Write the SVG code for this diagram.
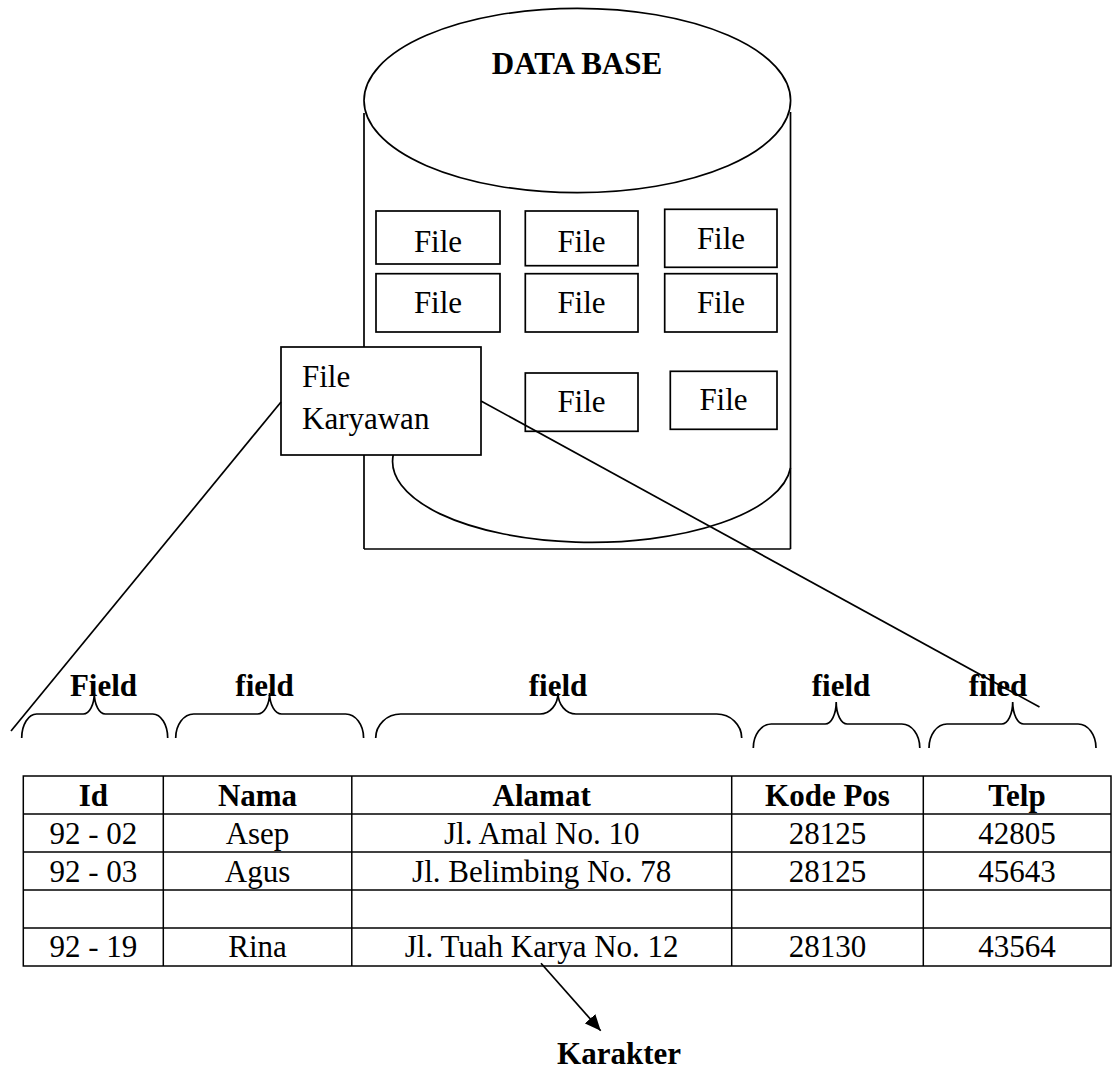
<svg xmlns="http://www.w3.org/2000/svg" width="1113" height="1071" viewBox="0 0 1113 1071">
<style>
  .ln{fill:none;stroke:#000;stroke-width:1.7}
  .bx{fill:#fff;stroke:#000;stroke-width:1.7}
  .t{font-family:"Liberation Serif","Times New Roman",serif;font-size:31px;fill:#000}
  .c{text-anchor:middle}
  .b{font-weight:bold}
  .tb{fill:none;stroke:#000;stroke-width:1.5}
</style>
<defs>
  <marker id="ah" markerUnits="userSpaceOnUse" markerWidth="17" markerHeight="15" refX="16" refY="7" orient="auto">
    <path d="M0,0 L16,7 L0,14 z" fill="#000"/>
  </marker>
</defs>

<g id="database">
  <line class="ln" x1="364" y1="113" x2="364" y2="549"/>
  <line class="ln" x1="790.5" y1="112" x2="790.5" y2="549"/>
  <line class="ln" x1="364" y1="549" x2="790.5" y2="549"/>
  <ellipse class="ln" cx="577.3" cy="100.5" rx="213.3" ry="92.2"/>
  <path class="ln" d="M393.2,455 A197.3,80 0 1 0 790.5,468"/>
  <text class="t b c" x="577" y="74">DATA BASE</text>
</g>

<g id="file1"><rect class="bx" x="376" y="211" width="124" height="53"/><text class="t c" x="438" y="251.7">File</text></g>
<g id="file2"><rect class="bx" x="525.3" y="211" width="112.7" height="54.7"/><text class="t c" x="581.5" y="251.7">File</text></g>
<g id="file3"><rect class="bx" x="664.7" y="209.3" width="112.3" height="58"/><text class="t c" x="721" y="249">File</text></g>
<g id="file4"><rect class="bx" x="376" y="273.7" width="124" height="58.3"/><text class="t c" x="438" y="313.3">File</text></g>
<g id="file5"><rect class="bx" x="525.3" y="273.7" width="112.7" height="58.3"/><text class="t c" x="581.5" y="313.3">File</text></g>
<g id="file6"><rect class="bx" x="664.7" y="273.7" width="112.3" height="58.3"/><text class="t c" x="721" y="313.3">File</text></g>
<g id="file7"><rect class="bx" x="525.3" y="373" width="112.7" height="58.3"/><text class="t c" x="581.5" y="411.7">File</text></g>
<g id="file8"><rect class="bx" x="670.3" y="371.3" width="106.7" height="58"/><text class="t c" x="723.5" y="410">File</text></g>

<g id="file-karyawan">
  <rect class="bx" x="281" y="347" width="200" height="108"/>
  <text class="t" x="302" y="386.7">File</text>
  <text class="t" x="302" y="429.3">Karyawan</text>
</g>

<g id="connectors">
  <line class="ln" x1="281" y1="402" x2="11" y2="731"/>
  <line class="ln" x1="481" y1="401" x2="1039.5" y2="707"/>
  <line class="ln" x1="541" y1="963.3" x2="600.7" y2="1030.7" marker-end="url(#ah)"/>
</g>

<g id="braces">
  <path class="ln" d="M21.7,738 C21.7,724.75 28.42,714 36.7,714 L83.3,714 C89.37,714 94.3,704.6 94.3,693 C94.3,704.6 99.23,714 105.3,714 L152.7,714 C160.98,714 167.7,724.75 167.7,738"/>
  <path class="ln" d="M175.7,738 C175.7,724.75 183.76,714 193.7,714 L257.6,714 C264.22,714 269.6,704.6 269.6,693 C269.6,704.6 274.98,714 281.6,714 L345.6,714 C355.54,714 363.6,724.75 363.6,738"/>
  <path class="ln" d="M375.7,738 C375.7,724.75 386.9,714 400.7,714 L540,714 C549.94,714 558,704.6 558,693 C558,704.6 566.06,714 576,714 L716.7,714 C730.5,714 741.7,724.75 741.7,738"/>
  <path class="ln" d="M753.3,748 C753.3,734.75 761.36,724 771.3,724 L825.2,724 C831.27,724 836.2,714.1 836.2,702 C836.2,714.1 841.13,724 847.2,724 L901.8,724 C911.74,724 919.8,734.75 919.8,748"/>
  <path class="ln" d="M929,748 C929,734.75 937.06,724 947,724 L1001.7,724 C1007.77,724 1012.7,714.1 1012.7,702 C1012.7,714.1 1017.63,724 1023.7,724 L1078,724 C1087.94,724 1096,734.75 1096,748"/>
</g>

<g id="field-labels">
  <text class="t b c" x="103.5" y="696">Field</text>
  <text class="t b c" x="264.6" y="696">field</text>
  <text class="t b c" x="558" y="696">field</text>
  <text class="t b c" x="841" y="696">field</text>
  <text class="t b c" x="998" y="696">filed</text>
</g>

<g id="table">
  <rect class="tb" x="23.3" y="776" width="1087.7" height="190"/>
  <line class="tb" x1="23.3" y1="814" x2="1111" y2="814"/>
  <line class="tb" x1="23.3" y1="852" x2="1111" y2="852"/>
  <line class="tb" x1="23.3" y1="890" x2="1111" y2="890"/>
  <line class="tb" x1="23.3" y1="928" x2="1111" y2="928"/>
  <line class="tb" x1="163.3" y1="776" x2="163.3" y2="966"/>
  <line class="tb" x1="351.8" y1="776" x2="351.8" y2="966"/>
  <line class="tb" x1="731.7" y1="776" x2="731.7" y2="966"/>
  <line class="tb" x1="923.3" y1="776" x2="923.3" y2="966"/>
  <g class="t c b">
    <text x="93.3" y="806">Id</text>
    <text x="257.5" y="806">Nama</text>
    <text x="541.7" y="806">Alamat</text>
    <text x="827.5" y="806">Kode Pos</text>
    <text x="1017" y="806">Telp</text>
  </g>
  <g class="t c">
    <text x="93.3" y="843.5">92 - 02</text>
    <text x="257.5" y="843.5">Asep</text>
    <text x="541.7" y="843.5">Jl. Amal No. 10</text>
    <text x="827.5" y="843.5">28125</text>
    <text x="1017" y="843.5">42805</text>
    <text x="93.3" y="881.5">92 - 03</text>
    <text x="257.5" y="881.5">Agus</text>
    <text x="541.7" y="881.5">Jl. Belimbing No. 78</text>
    <text x="827.5" y="881.5">28125</text>
    <text x="1017" y="881.5">45643</text>
    <text x="93.3" y="957">92 - 19</text>
    <text x="257.5" y="957">Rina</text>
    <text x="541.7" y="957">Jl. Tuah Karya No. 12</text>
    <text x="827.5" y="957">28130</text>
    <text x="1017" y="957">43564</text>
  </g>
</g>

<g id="karakter">
  <text class="t b c" x="619" y="1064">Karakter</text>
</g>
</svg>
